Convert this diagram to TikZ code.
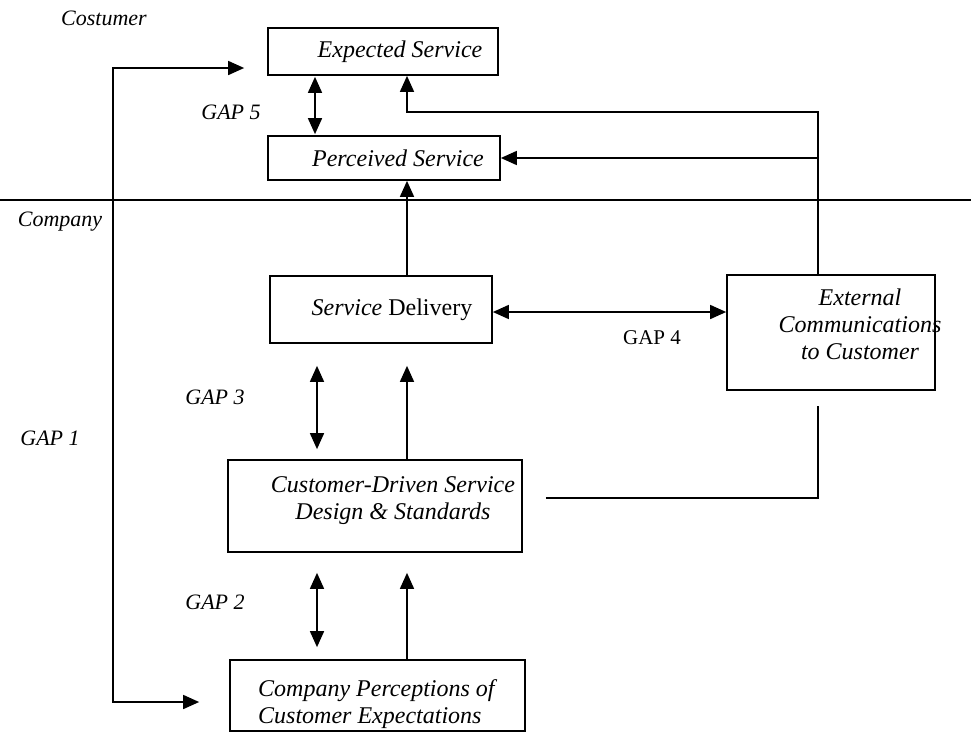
\documentclass[tikz,border=0pt]{standalone}
\usepackage{fontspec}
\setmainfont{Liberation Serif}
\usetikzlibrary{arrows.meta,calc}
\begin{document}
\begin{tikzpicture}[x=1pt,y=-1pt,
  box/.style={draw, line width=1.7pt, inner sep=0pt},
  txt/.style={font=\fontsize{24}{27}\selectfont\itshape, inner sep=0pt, align=center},
  gaplbl/.style={font=\fontsize{22}{26}\selectfont\itshape, inner sep=0pt},
  side/.style={font=\fontsize{22}{26}\selectfont\itshape, inner sep=0pt},
  conn/.style={line width=1.6pt},
  tip/.style={conn,-{Triangle[length=16pt,width=14pt]}},
  dbl/.style={conn,{Triangle[length=16pt,width=14pt]}-{Triangle[length=16pt,width=14pt]}},
]
\useasboundingbox (0,0) rectangle (971,732);
\fill[white] (0,0) rectangle (971,732);

% helper x / y positions
\coordinate (x113) at (113,0);
\coordinate (x315) at (315,0);
\coordinate (x317) at (317,0);
\coordinate (x407) at (407,0);
\coordinate (x818) at (818,0);
\coordinate (y112) at (0,112);
\coordinate (y498) at (0,498);
\coordinate (divL) at (0,200);
\coordinate (divR) at (971,200);

% side labels
\node[side] (costumer) at (104,18) {Costumer};
\node[side] (company) at (60,222) {Company};

% boxes
\node[box, minimum width=230pt, minimum height=47pt] (es) at (383,51.5) {};
\node[txt] (est) at (400,52) {Expected Service};
\node[box, minimum width=232pt, minimum height=44pt] (ps) at (384,158) {};
\node[txt] (pst) at (398,158) {Perceived Service};
\node[box, minimum width=222pt, minimum height=67pt] (sd) at (381,309.5) {};
\node[txt] (sdt) at (392,310) {Service \textup{Delivery}};
\node[box, minimum width=208pt, minimum height=115pt] (ext) at (831,332.5) {};
\node[txt] (extt) at (860,324) {External\\Communications\\to Customer};
\node[box, minimum width=294pt, minimum height=92pt] (cds) at (375,506) {};
\node[txt] (cdst) at (393,501) {Customer-Driven Service\\Design \& Standards};
\node[box, minimum width=295pt, minimum height=71pt] (cpce) at (377.5,695.5) {};
\node[txt, anchor=west, align=left] (cpcet) at (258,704) {Company Perceptions of\\Customer Expectations};

% gap labels
\node[gaplbl] (g5) at (231,112) {GAP 5};
\node[gaplbl, font=\fontsize{21}{24}\selectfont] (g4) at (652,338) {GAP 4};
\node[gaplbl] (g3) at (215,397) {GAP 3};
\node[gaplbl] (g2) at (215,602) {GAP 2};
\node[gaplbl] (g1) at (50,438) {GAP 1};

% divider
\draw[conn] (divL) -- (divR);

% GAP 1 loop
\coordinate (g1b) at ([yshift=-6.5pt]cpce.west);
\coordinate (g1t) at ([yshift=-16.5pt]es.west);
\draw[dbl, shorten <=30pt, shorten >=23pt] (g1b) -- (g1b -| x113) -- (g1t -| x113) -- (g1t);

% GAP 5
\draw[dbl, shorten <=1pt, shorten >=1pt] (es.south -| x315) -- (ps.north -| x315);

% external communications -> expected / perceived
\draw[tip] (ext.north -| x818) -- (x818 |- y112) -- (x407 |- y112) -- (es.south -| x407);
\draw[tip] (x818 |- ps.east) -- (ps.east);

% service delivery -> perceived
\draw[tip] (sd.north -| x407) -- (ps.south -| x407);

% GAP 4
\coordinate (g4a) at ([yshift=-2.5pt]sd.east);
\draw[dbl] (g4a) -- (g4a -| ext.west);

% GAP 3
\draw[dbl, shorten <=22pt, shorten >=10pt] (sd.south -| x317) -- (cds.north -| x317);
\draw[tip, shorten >=22pt] (cds.north -| x407) -- (sd.south -| x407);

% GAP 2
\draw[dbl, shorten <=20pt, shorten >=12pt] (cds.south -| x317) -- (cpce.north -| x317);
\draw[tip, shorten >=20pt] (cpce.north -| x407) -- (cds.south -| x407);

% design & standards -- external communications
\draw[conn, shorten <=23pt, shorten >=15pt] (cds.east |- y498) -- (x818 |- y498) -- (ext.south -| x818);
\end{tikzpicture}
\end{document}
